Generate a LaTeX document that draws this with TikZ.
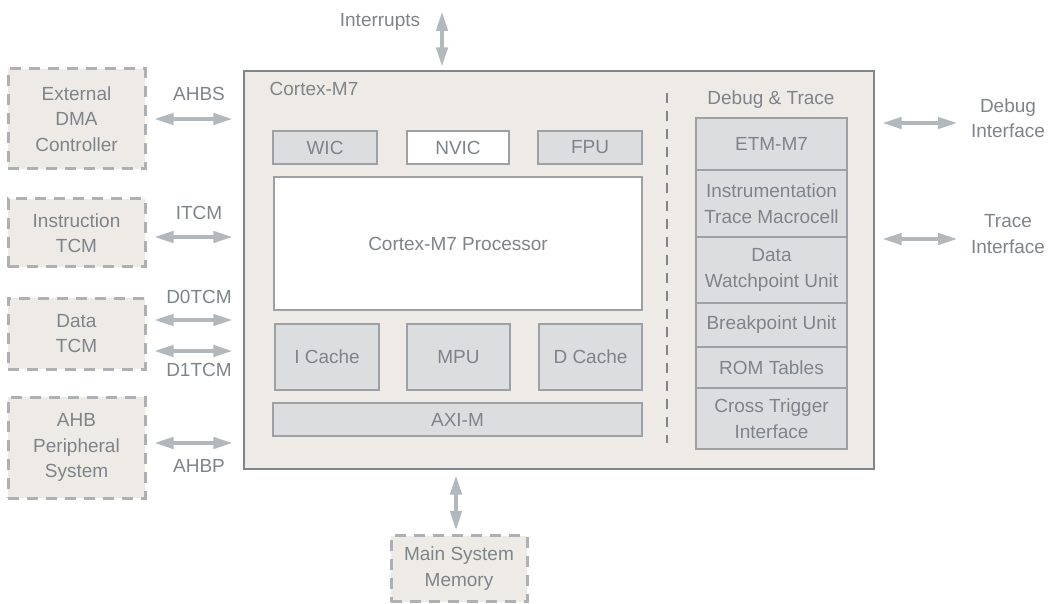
\documentclass[tikz,border=0pt]{standalone}
\usepackage{fontspec}
\setmainfont{Liberation Sans}
\usetikzlibrary{arrows.meta,calc}
\definecolor{txt}{HTML}{7E848A}
\definecolor{bgbox}{HTML}{EEEBE6}
\definecolor{frame}{HTML}{7E858B}
\definecolor{inner}{HTML}{DCDDDF}
\definecolor{innerline}{HTML}{9DA1A5}
\definecolor{arr}{HTML}{B3B8BC}
\definecolor{dashc}{HTML}{ADB1B4}
\tikzset{
  every node/.style={text=txt, font=\fontsize{19}{25.5}\selectfont, align=center, inner sep=0pt},
  mainbox/.style={draw=frame, fill=bgbox, line width=1.4pt},
  ibox/.style={draw=innerline, fill=inner, line width=1.4pt},
  wbox/.style={draw=innerline, fill=white, line width=1.4pt},
  extbox/.style={draw=dashc, fill=bgbox, line width=3pt, dash pattern=on 11pt off 8pt},
  bi/.style={draw=arr, line width=3.2pt, {Triangle[length=19pt,width=11.5pt]}-{Triangle[length=19pt,width=11.5pt]}},
  sz/.style 2 args={minimum width=#1, minimum height=#2},
}
\begin{document}
\begin{tikzpicture}[x=1pt,y=-1pt]
\useasboundingbox (0,0) rectangle (1050,604);
% main box
\node[mainbox, sz={630pt}{398pt}] (main) at (559,270) {};
\node (cm7) at (314,89) {Cortex-M7};
\node[ibox, sz={104pt}{33pt}] (wic) at (325,147.5) {WIC};
\node[wbox, sz={102pt}{33pt}] (nvic) at (458,147.5) {NVIC};
\node[ibox, sz={104pt}{33pt}] (fpu) at (590,147.5) {FPU};
\node[wbox, sz={368pt}{133pt}] (proc) at (458,243.5) {Cortex-M7 Processor};
\node[ibox, sz={104pt}{66pt}] (icache) at (327,357) {I Cache};
\node[ibox, sz={103pt}{66pt}] (mpu) at (458.5,357) {MPU};
\node[ibox, sz={103pt}{66pt}] (dcache) at (590.5,357) {D Cache};
\node[ibox, sz={369pt}{33pt}] (axim) at (457.5,419.5) {AXI-M};
% divider
\coordinate (divtop) at (667,93);
\coordinate (divbot) at (667,443);
\draw[frame, line width=2.5pt, dash pattern=on 10pt off 8pt] (divtop) -- (divbot);
% debug & trace
\node (dbglbl) at (771,100) {Debug \& Trace};
\node[ibox, sz={151pt}{52pt}] (etm) at (771.5,144) {ETM-M7};
\node[ibox, sz={151pt}{67pt}] (itm) at (771.5,203.5) {Instrumentation\\Trace Macrocell};
\node[ibox, sz={151pt}{66pt}] (dwt) at (771.5,270) {Data\\Watchpoint Unit};
\node[ibox, sz={151pt}{44pt}] (bpu) at (771.5,325) {Breakpoint Unit};
\node[ibox, sz={151pt}{41pt}] (rom) at (771.5,367.5) {ROM Tables};
\node[ibox, sz={151pt}{61pt}] (cti) at (771.5,418.5) {Cross Trigger\\Interface};
% external boxes
\node[extbox, sz={137pt}{100pt}] (dma) at (76.5,119) {External\\DMA\\Controller};
\node[extbox, sz={137pt}{68pt}] (itcm) at (76.5,233) {Instruction\\TCM};
\node[extbox, sz={137pt}{71pt}] (dtcm) at (76.5,333.5) {Data\\TCM};
\node[extbox, sz={137pt}{101pt}] (ahb) at (76.5,447.5) {AHB\\Peripheral\\System};
\node[extbox, sz={136pt}{66pt}] (mem) at (459,568.5) {Main System\\Memory};
% left arrows
\draw[bi] ($(dma.east)+(8,0)$) -- ($(main.west|-dma.east)+(-11,0)$);
\node (lahbs) at (199,94) {AHBS};
\draw[bi] ($(itcm.east)+(8,4)$) -- ($(main.west|-itcm.east)+(-11,4)$);
\node (litcm) at (199,213) {ITCM};
\draw[bi] ($(dtcm.east)+(8,-13.5)$) -- ($(main.west|-dtcm.east)+(-11,-13.5)$);
\node (ld0) at (199,297) {D0TCM};
\draw[bi] ($(dtcm.east)+(8,17.5)$) -- ($(main.west|-dtcm.east)+(-11,17.5)$);
\node (ld1) at (199,370) {D1TCM};
\draw[bi] ($(ahb.east)+(8,-4.5)$) -- ($(main.west|-ahb.east)+(-11,-4.5)$);
\node (lahbp) at (199,466) {AHBP};
% right arrows
\coordinate (dbgend) at (957,123);
\coordinate (trcend) at (957,239);
\draw[bi] ($(main.east|-dbgend)+(8,0)$) -- (dbgend);
\draw[bi] ($(main.east|-trcend)+(8,0)$) -- (trcend);
\node (ldbg) at (1008,118) {Debug\\Interface};
\node (ltrc) at (1008,234) {Trace\\Interface};
% top / bottom arrows
\coordinate (irqend) at (442,12);
\draw[bi] (irqend) -- ($(main.north-|irqend)+(0,-4)$);
\node (lirq) at (380,22) {Interrupts};
\draw[bi] ($(main.south-|mem.north)+(-3,6)$) -- ($(mem.north)+(-3,-4)$);
\end{tikzpicture}
\end{document}
